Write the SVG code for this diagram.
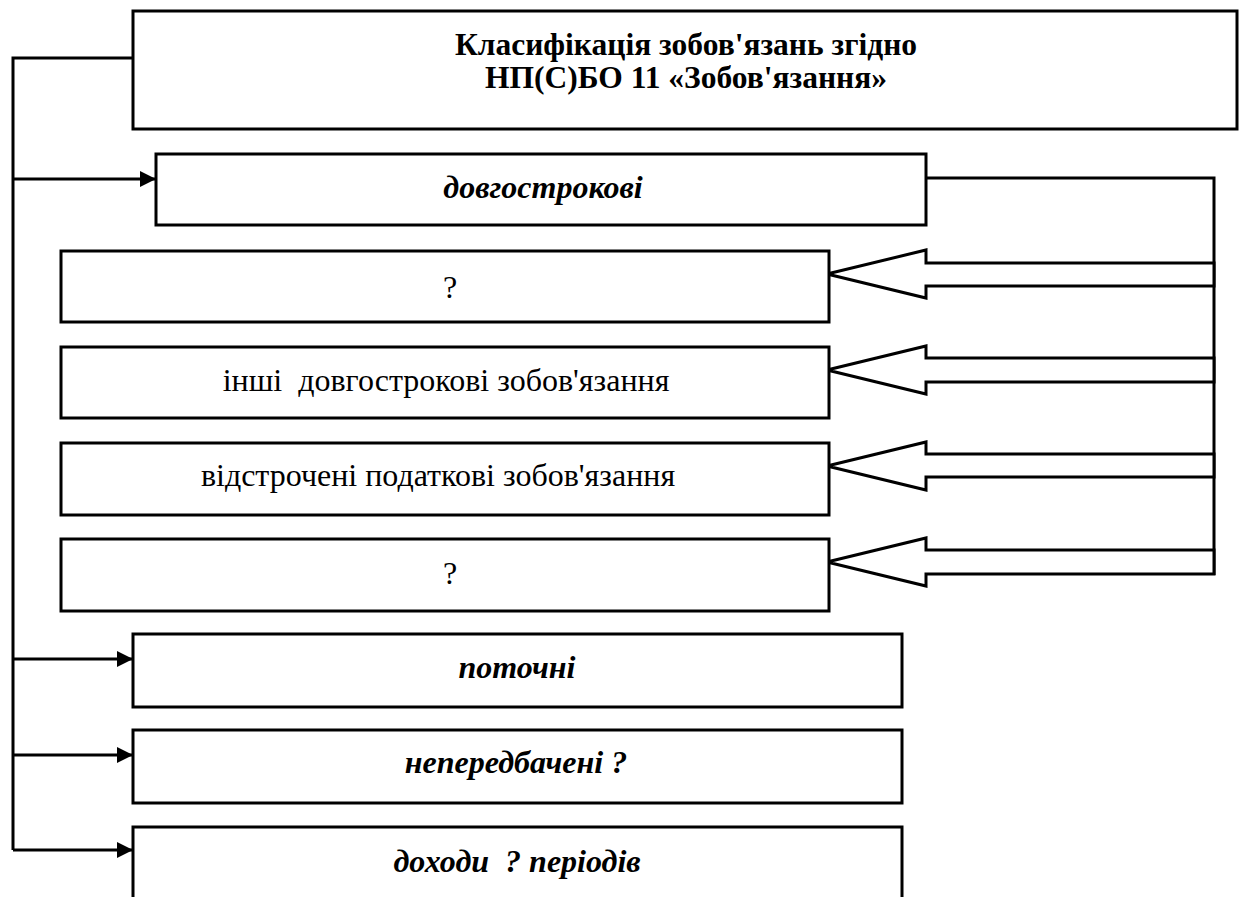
<svg xmlns="http://www.w3.org/2000/svg" width="1245" height="897" viewBox="0 0 1245 897">
<style>
.box{fill:#fff;stroke:#000;stroke-width:3}
.ln{fill:none;stroke:#000;stroke-width:3}
.barrow{fill:#fff;stroke:#000;stroke-width:3;stroke-linejoin:miter}
.t{font-family:"Liberation Serif","Times New Roman",serif;font-size:32px;text-anchor:middle;fill:#000}
.tb{font-weight:bold;font-size:31.5px}
.ti{font-weight:bold;font-style:italic}
</style>
<defs>
<marker id="ah" markerWidth="17" markerHeight="16" refX="16" refY="8" orient="auto" markerUnits="userSpaceOnUse">
<path d="M0,0 L16,8 L0,16 Z" fill="#000"/>
</marker>
</defs>
<rect width="1245" height="897" fill="#fff"/>
<g id="connectors">
<polyline class="ln" points="133,58 13,58 13,850"/>
<line class="ln" x1="13" y1="179" x2="156" y2="179" marker-end="url(#ah)"/>
<line class="ln" x1="13" y1="659" x2="133" y2="659" marker-end="url(#ah)"/>
<line class="ln" x1="13" y1="755" x2="133" y2="755" marker-end="url(#ah)"/>
<line class="ln" x1="13" y1="850" x2="133" y2="850" marker-end="url(#ah)"/>
<polyline class="ln" points="926,178 1214,178 1214,575"/>
<polygon class="barrow" points="827,274 926,250 926,263 1214,263 1214,286 926,286 926,298"/>
<polygon class="barrow" points="827,370 926,346 926,358 1214,358 1214,382 926,382 926,394"/>
<polygon class="barrow" points="827,466 926,442 926,454 1214,454 1214,477 926,477 926,490"/>
<polygon class="barrow" points="827,562 926,538 926,550 1214,550 1214,574 926,574 926,586"/>
</g>
<g id="title">
<rect class="box" x="133" y="11" width="1104" height="118"/>
<text class="t tb" x="686" y="55">Класифікація зобов'язань згідно</text>
<text class="t tb" x="686" y="88">НП(С)БО 11 «Зобов'язання»</text>
</g>
<g id="long-term">
<rect class="box" x="156" y="154" width="770" height="71"/>
<text class="t ti" x="543" y="198">довгострокові</text>
</g>
<g id="q1">
<rect class="box" x="61" y="251" width="768" height="71"/>
<text class="t" x="450" y="298">?</text>
</g>
<g id="other-long-term">
<rect class="box" x="61" y="347" width="768" height="71"/>
<text class="t" x="446" y="391" xml:space="preserve">інші  довгострокові зобов'язання</text>
</g>
<g id="deferred-tax">
<rect class="box" x="61" y="443" width="768" height="72"/>
<text class="t" x="438" y="486">відстрочені податкові зобов'язання</text>
</g>
<g id="q2">
<rect class="box" x="61" y="539" width="768" height="72"/>
<text class="t" x="450" y="584">?</text>
</g>
<g id="current">
<rect class="box" x="133" y="634" width="769" height="73"/>
<text class="t ti" x="517" y="678">поточні</text>
</g>
<g id="contingent">
<rect class="box" x="133" y="730" width="769" height="73"/>
<text class="t ti" x="516" y="773">непередбачені ?</text>
</g>
<g id="deferred-income">
<rect class="box" x="133" y="827" width="769" height="80"/>
<text class="t ti" x="517" y="872" xml:space="preserve">доходи  ? періодів</text>
</g>
</svg>
